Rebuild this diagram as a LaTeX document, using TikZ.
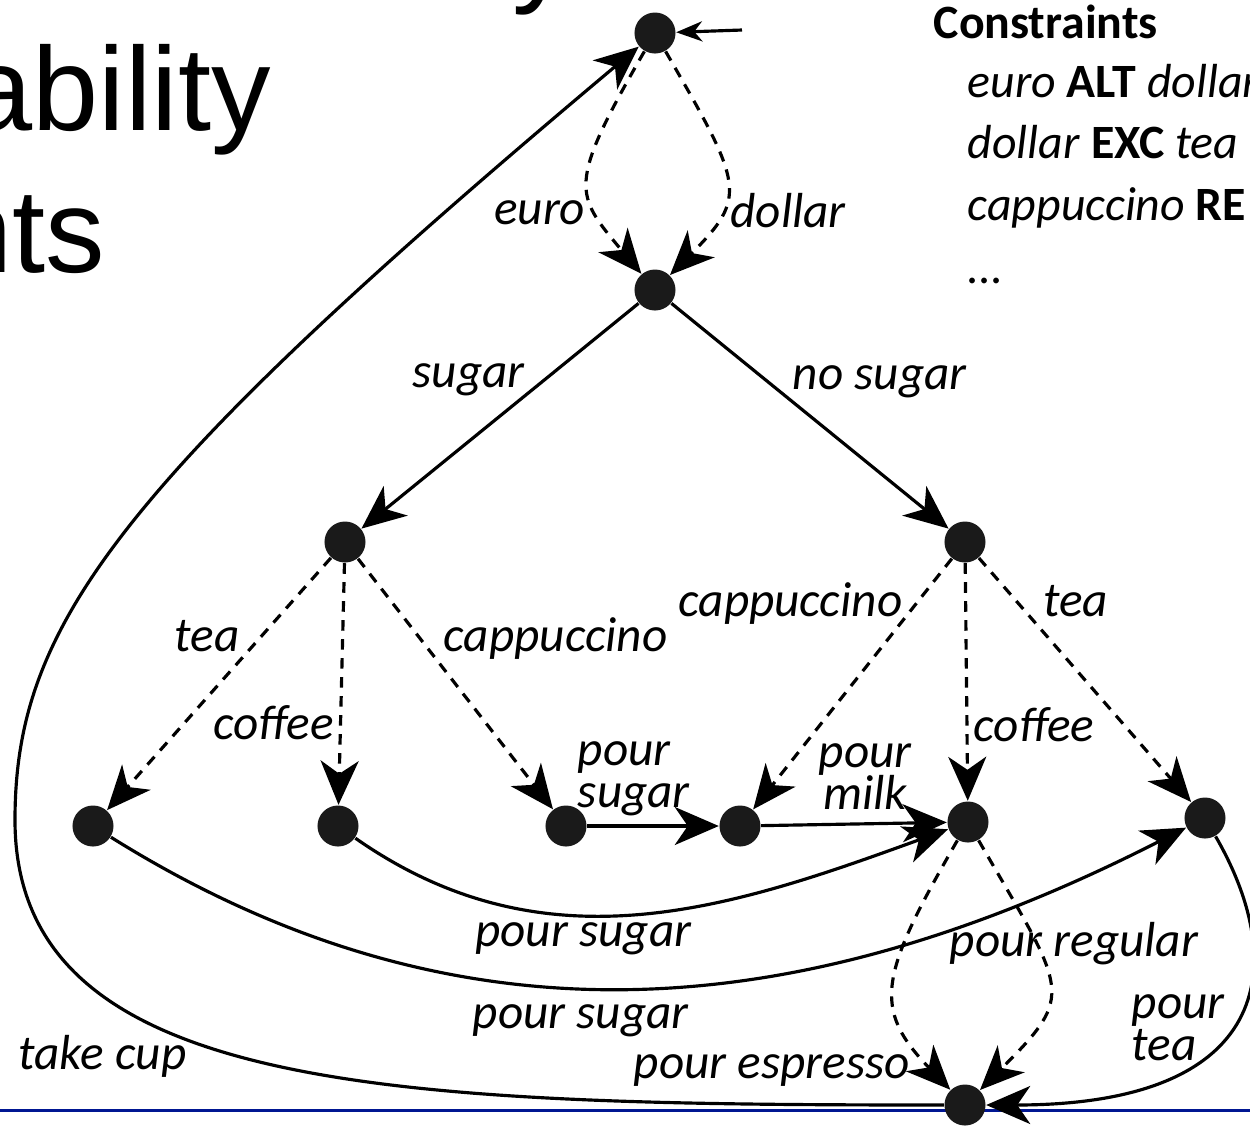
\documentclass[tikz,border=0pt]{standalone}
\usepackage{fontspec}
\setmainfont{Carlito}
\newfontfamily\titlefont{Liberation Sans}
\usetikzlibrary{arrows.meta}
\definecolor{statecolor}{RGB}{26,26,26}
\definecolor{slideblue}{RGB}{0,22,146}

\begin{document}
\begin{tikzpicture}[
    x=0.01cm, y=0.01cm,
    statenode/.style={circle, fill=statecolor, minimum size=0.41cm, inner sep=0pt},
    trans/.style={-{Stealth[length=0.44cm, width=0.38cm, inset=0.13cm]}, line width=0.9pt},
    opt/.style={trans, dash pattern=on 3pt off 2.4pt},
    lbl/.style={font=\fontsize{14}{12}\selectfont\itshape, inner sep=1.5pt},
    slidetext/.style={anchor=base west, inner sep=0pt, font=\titlefont\fontsize{33.8}{40}\selectfont},
    constr/.style={anchor=base west, inner sep=0pt, font=\fontsize{13.6}{16}\selectfont}
]
    \useasboundingbox (0,0) rectangle (1250,-1132);
    \draw[slideblue, line width=0.03cm] (0,-1110) -- (1250,-1110);

    % slide title (cut off)
    \node[slidetext] (ttl0) at (512,10) {y};
    \node[slidetext] (ttl1) at (-34,-130) {ability};
    \node[slidetext] (ttl2) at (-54,-272) {nts};

    % constraints
    \node[constr] (ctitle) at (933,-38) {\textbf{Constraints}};
    \node[constr] (con1) at (967,-97) {\textit{euro} \textbf{ALT} \textit{dollar}};
    \node[constr] (con2) at (967,-158) {\textit{dollar} \textbf{EXC} \textit{tea}};
    \node[constr] (con3) at (967,-220) {\textit{cappuccino} \textbf{RE}};
    \node[constr] (con4) at (967,-283) {\textit{...}};

    % states
    \node[statenode] (ready) at (655,-33) {};
    \node[statenode] (paid) at (655,-290) {};
    \node[statenode] (sweet) at (345,-542) {};
    \node[statenode] (bitter) at (965,-542) {};
    \node[statenode] (teaS) at (93,-826) {};
    \node[statenode] (coffS) at (338,-826) {};
    \node[statenode] (capS) at (566,-826) {};
    \node[statenode] (capN) at (740,-826) {};
    \node[statenode] (coffN) at (968,-822) {};
    \node[statenode] (teaN) at (1205,-818) {};
    \node[statenode] (served) at (965,-1105) {};
    \coordinate (entry) at (742,-30);
    \coordinate (cupturn) at (15,-820);

    % transitions
    \draw[trans, -{Stealth[length=0.26cm, width=0.2cm, inset=0.08cm]}] (entry) -- (ready);
    \draw[opt] (ready) to[out=240, in=130, out looseness=1.79, in looseness=1.2] node[lbl, pos=0.62, anchor=east, yshift=-0.1cm] {euro} (paid);
    \draw[opt] (ready) to[out=-60, in=45, out looseness=1.76, in looseness=1.27] node[lbl, pos=0.62, anchor=west, yshift=-0.07cm] {dollar} (paid);
    \draw[trans] (paid) -- node[lbl, pos=0.44, anchor=south east, xshift=0.15cm] {sugar} (sweet);
    \draw[trans] (paid) -- node[lbl, pos=0.45, anchor=south west, xshift=-0.1cm] {no sugar} (bitter);

    \draw[opt] (sweet) -- node[lbl, pos=0.4, anchor=south east, xshift=0.05cm] {tea} (teaS);
    \draw[opt] (sweet) -- node[lbl, pos=0.66, anchor=east] {coffee} (coffS);
    \draw[opt] (sweet) -- node[lbl, pos=0.43, anchor=south west, xshift=-0.05cm] {cappuccino} (capS);
    \draw[opt] (bitter) -- node[lbl, pos=0.29, anchor=south east, xshift=0.15cm] {cappuccino} (capN);
    \draw[opt] (bitter) -- node[lbl, pos=0.68, anchor=west] {coffee} (coffN);
    \draw[opt] (bitter) -- node[lbl, pos=0.27, anchor=south west] {tea} (teaN);

    \draw[trans] (capS) -- node[lbl, pos=0.4, above, align=left, xshift=-0.06cm, yshift=0.03cm] {pour\\sugar} (capN);
    \draw[trans] (capN) -- node[lbl, pos=0.56, above, align=center, yshift=0.07cm] {pour\\milk} (coffN);
    \draw[trans] (coffS) to[out=-35, in=200] node[lbl, pos=0.4, below] {pour sugar} (coffN);
    \draw[trans] (teaS) to[out=-32, in=207] node[lbl, pos=0.45, below, xshift=-0.08cm, yshift=-0.1cm] {pour sugar} (teaN);

    \draw[opt] (coffN) to[out=240, in=134, out looseness=1.6, in looseness=1.16] node[lbl, pos=0.85, anchor=east, xshift=-0.04cm, yshift=-0.15cm] {pour espresso} (served);
    \draw[opt] (coffN) to[out=-60, in=45, out looseness=1.8, in looseness=1.4] node[lbl, pos=0.3, xshift=0.38cm] {pour regular} (served);
    \draw[trans] (teaN) to[out=-60, in=0, out looseness=1.1, in looseness=2.05] node[lbl, pos=0.5, anchor=east, align=left, xshift=-0.04cm, yshift=-0.08cm] {pour\\tea} (served);
    \draw[trans] (served) to[out=180, in=-90, out looseness=1.45, in looseness=0.72] node[lbl, pos=0.6, anchor=north east, xshift=0.1cm, yshift=0.1cm] {take cup} (cupturn)
        to[out=90, in=220, out looseness=0.5, in looseness=1.76] (ready);
\end{tikzpicture}
\end{document}
